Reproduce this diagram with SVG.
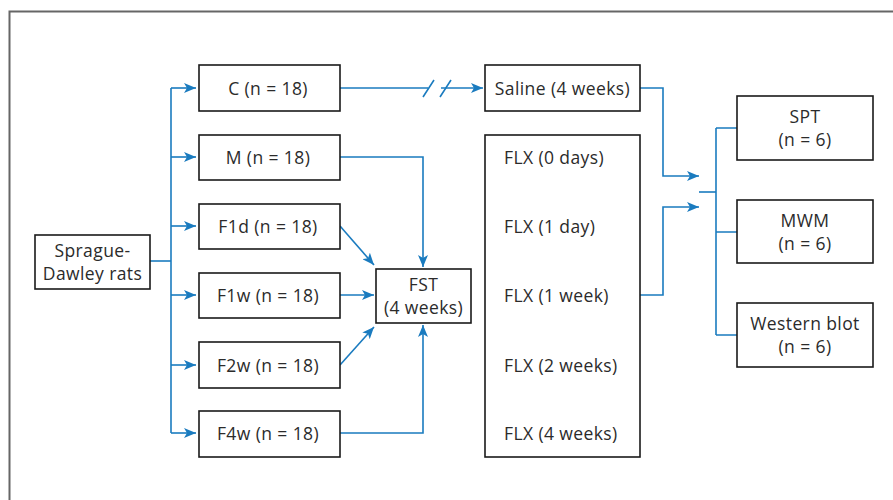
<svg xmlns="http://www.w3.org/2000/svg" width="893" height="500" viewBox="0 0 893 500">
<style>
.box{fill:#fff;stroke:#1a1a1a;stroke-width:1.6}
.t{font-family:"Open Sans","Noto Sans","Liberation Sans",sans-serif;font-size:17.5px;letter-spacing:0.4px;fill:#2b2b2b;text-anchor:middle}
.l{text-anchor:start}
.c{fill:none;stroke:#1a7bbf;stroke-width:1.6}
</style>
<defs>
<marker id="a" viewBox="0 0 12 10" refX="12" refY="5" markerWidth="12" markerHeight="10" markerUnits="userSpaceOnUse" orient="auto">
<path d="M0,0 L12,5 L0,10 L3,5 Z" fill="#1a7bbf"/>
</marker>
</defs>
<rect x="0" y="0" width="893" height="500" fill="#fff"/>
<path d="M9.5,500 V11.5 H893" fill="none" stroke="#666" stroke-width="2"/>
<g id="connectors">
<path class="c" d="M150,261 H171"/>
<path class="c" d="M171,88 V433"/>
<path class="c" d="M171,88 H196" marker-end="url(#a)"/>
<path class="c" d="M171,157 H196" marker-end="url(#a)"/>
<path class="c" d="M171,226 H196" marker-end="url(#a)"/>
<path class="c" d="M171,295 H196" marker-end="url(#a)"/>
<path class="c" d="M171,365 H196" marker-end="url(#a)"/>
<path class="c" d="M171,433 H196" marker-end="url(#a)"/>
<path class="c" d="M340,88 H428"/>
<path class="c" d="M441,88 H483" marker-end="url(#a)"/>
<path class="c" d="M423,97 L434,80 M440,97 L451,80"/>
<path class="c" d="M340,157 H423 V267" marker-end="url(#a)"/>
<path class="c" d="M340,226 L374,265" marker-end="url(#a)"/>
<path class="c" d="M340,295 H374" marker-end="url(#a)"/>
<path class="c" d="M340,365 L374,327" marker-end="url(#a)"/>
<path class="c" d="M340,433 H423 V325" marker-end="url(#a)"/>
<path class="c" d="M640,88 H663 V176 H699" marker-end="url(#a)"/>
<path class="c" d="M640,295 H663 V207 H699" marker-end="url(#a)"/>
<path class="c" d="M699,192 H716"/>
<path class="c" d="M716,128 V335"/>
<path class="c" d="M716,128 H737 M716,232 H737 M716,335 H737"/>
</g>
<g id="sd"><rect class="box" x="35" y="235" width="115" height="54"/><text class="t" x="92.5" y="257">Sprague-</text><text class="t" x="92.5" y="280">Dawley rats</text></g>
<g id="c"><rect class="box" x="199" y="65" width="141" height="46"/><text class="t" x="268" y="95">C (n = 18)</text></g>
<g id="m"><rect class="box" x="199" y="135" width="141" height="45"/><text class="t" x="268" y="164">M (n = 18)</text></g>
<g id="f1d"><rect class="box" x="199" y="204" width="141" height="45"/><text class="t" x="268" y="233">F1d (n = 18)</text></g>
<g id="f1w"><rect class="box" x="199" y="273" width="141" height="45"/><text class="t" x="268" y="302">F1w (n = 18)</text></g>
<g id="f2w"><rect class="box" x="199" y="342" width="141" height="46"/><text class="t" x="268" y="372">F2w (n = 18)</text></g>
<g id="f4w"><rect class="box" x="199" y="411" width="141" height="46"/><text class="t" x="268" y="440">F4w (n = 18)</text></g>
<g id="fst"><rect class="box" x="376" y="269" width="95" height="54"/><text class="t" x="423.5" y="291">FST</text><text class="t" x="423.5" y="314">(4 weeks)</text></g>
<g id="saline"><rect class="box" x="485" y="65" width="155" height="46"/><text class="t" x="562.5" y="95">Saline (4 weeks)</text></g>
<g id="flx"><rect class="box" x="485" y="135" width="155" height="322"/>
<text class="t l" x="504" y="164">FLX (0 days)</text>
<text class="t l" x="504" y="233">FLX (1 day)</text>
<text class="t l" x="504" y="302">FLX (1 week)</text>
<text class="t l" x="504" y="372">FLX (2 weeks)</text>
<text class="t l" x="504" y="440">FLX (4 weeks)</text></g>
<g id="spt"><rect class="box" x="737" y="96" width="136" height="64"/><text class="t" x="805" y="123">SPT</text><text class="t" x="805" y="146">(n = 6)</text></g>
<g id="mwm"><rect class="box" x="737" y="200" width="136" height="63"/><text class="t" x="805" y="227">MWM</text><text class="t" x="805" y="250">(n = 6)</text></g>
<g id="wb"><rect class="box" x="737" y="303" width="136" height="64"/><text class="t" x="805" y="330">Western blot</text><text class="t" x="805" y="353">(n = 6)</text></g>
</svg>
